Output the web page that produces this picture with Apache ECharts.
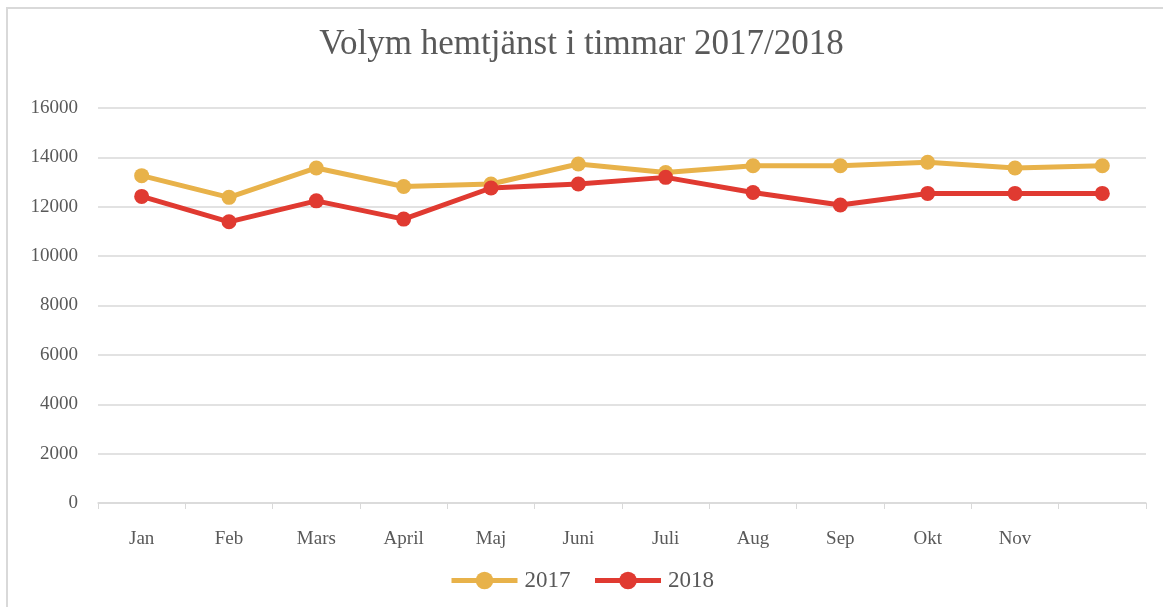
<!DOCTYPE html>
<html>
<head>
<meta charset="utf-8">
<script src="https://cdn.jsdelivr.net/npm/echarts@6/dist/echarts.min.js"></script>
<style>
html, body { margin: 0; padding: 0; background: #fff; overflow: hidden; }
#frame { position: absolute; left: 6px; top: 7px; width: 1180px; height: 630px; border: 2px solid #d9d9d9; }
#main { position: absolute; left: 0; top: 0; width: 1163px; height: 607px; }
</style>
</head>
<body>
<div id="frame"></div>
<div id="main"></div>
<script>
// months, last slot has no label in the original
var months = ['Jan', 'Feb', 'Mars', 'April', 'Maj', 'Juni', 'Juli', 'Aug', 'Sep', 'Okt', 'Nov', ''];
var hours2017 = [13260, 12380, 13570, 12820, 12920, 13730, 13390, 13660, 13660, 13800, 13570, 13660];
var hours2018 = [12420, 11390, 12240, 11500, 12760, 12920, 13190, 12580, 12070, 12540, 12540, 12540];
var yTicks = [0, 2000, 4000, 6000, 8000, 10000, 12000, 14000, 16000];

var fontName = '"Liberation Serif", "DejaVu Serif", serif';
var textColor = '#595959';

var myChart = echarts.init(document.getElementById('main'));

function makeSeries(name, data, color) {
    return {
        name: name,
        type: 'line',
        data: data,
        symbol: 'circle',
        symbolSize: 15,
        showSymbol: true,
        lineStyle: { width: 5, color: color },
        itemStyle: { color: color },
        animation: false
    };
}

var option = {
    color: ['#E8B24A', '#E03A31'],
    title: {
        left: 'center',
        top: 22,
        text: 'Volym hemtjänst i timmar 2017/2018',
        textStyle: {
            fontFamily: fontName,
            fontWeight: 'normal',
            fontSize: 35,
            color: textColor
        }
    },
    grid: {
        top: 108,
        left: 98,
        right: 17,
        bottom: 104
    },
    legend: {
        data: ['2017', '2018'],
        bottom: 10,
        left: 'center',
        itemWidth: 66,
        itemHeight: 22,
        itemGap: 22,
        lineStyle: { width: 5 },
        textStyle: {
            fontFamily: fontName,
            fontSize: 23,
            color: textColor,
            padding: [0, 0, 0, 2]
        }
    },
    xAxis: {
        type: 'category',
        data: months,
        boundaryGap: true,
        axisLine: { lineStyle: { color: '#d9d9d9', width: 1.5 } },
        axisTick: { show: true, length: 6, lineStyle: { color: '#d9d9d9' } },
        axisLabel: {
            margin: 27,
            interval: 0,
            fontFamily: fontName,
            fontSize: 19,
            color: textColor
        },
        splitLine: { show: false }
    },
    yAxis: {
        type: 'value',
        min: yTicks[0],
        max: yTicks[yTicks.length - 1],
        interval: yTicks[1] - yTicks[0],
        axisLine: { show: false },
        axisTick: { show: false },
        axisLabel: {
            margin: 20,
            fontFamily: fontName,
            fontSize: 19,
            color: textColor,
            formatter: function (v) { return String(v); }
        },
        splitLine: { lineStyle: { color: '#d9d9d9', width: 1.5 } }
    },
    series: [
        makeSeries('2017', hours2017, '#E8B24A'),
        makeSeries('2018', hours2018, '#E03A31')
    ]
};

myChart.setOption(option);
</script>
</body>
</html>
